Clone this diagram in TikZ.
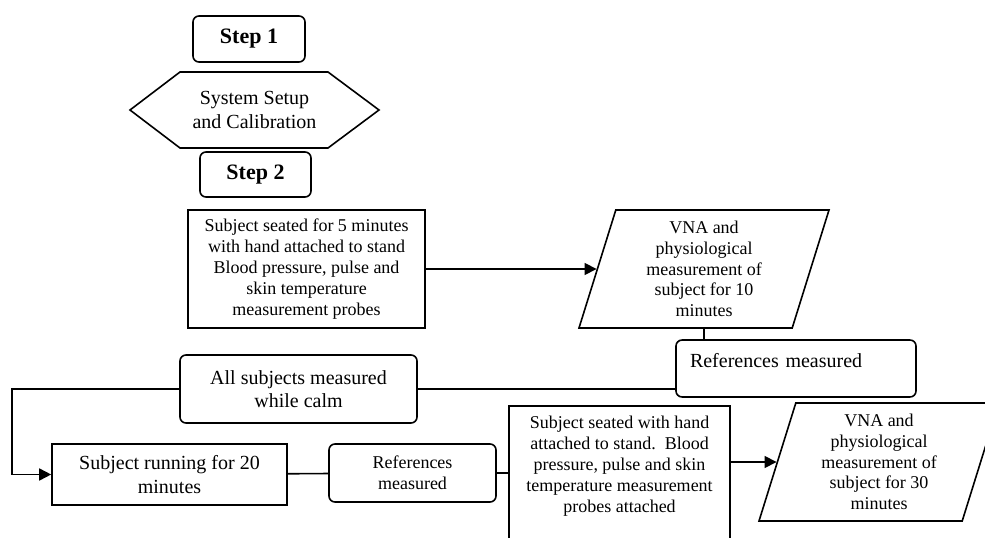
\documentclass[tikz,border=0pt]{standalone}
\usepackage{amsmath}
\usepackage{fontspec}
\setmainfont{Liberation Serif}
\usepackage{tikz}
\usetikzlibrary{shapes.geometric,arrows.meta}

\begin{document}
\begin{tikzpicture}[x=0.75pt, y=-0.75pt, line width=1.2pt,
        >={Triangle[length=9pt,width=9pt]},
        rbox/.style={draw=black, rounded corners=4.5pt, align=center, inner sep=0pt},
        sbox/.style={draw=black, align=center, inner sep=0pt},
        para/.style={draw=black, trapezium, trapezium left angle=69, trapezium right angle=111,
            trapezium stretches body=true, align=center, inner sep=0pt},
        bigtxt/.style={font=\fontsize{15}{17.5}\selectfont},
        smalltxt/.style={font=\fontsize{13.5}{15.6}\selectfont},
        steptxt/.style={font=\fontsize{16.5}{19}\selectfont\bfseries}]
            \useasboundingbox (0,0) rectangle (985,538);
            \clip (0,0) rectangle (985,538);
            % step one
            \node[rbox, steptxt, minimum width=84pt, minimum height=34.5pt] (step1) at (249,39) {Step 1};
            \draw (130,110) -- (180,72) -- (328,72) -- (379,110) -- (328,148) -- (180,148) -- cycle;
            \node[bigtxt, align=center] (setup) at (254.5,110) {System Setup\\and Calibration};
            \node[rbox, steptxt, minimum width=83.25pt, minimum height=33.75pt] (step2) at (255.5,174.5) {Step 2};
            % step two
            \node[sbox, smalltxt, minimum width=177.75pt, minimum height=88.5pt] (seat1) at (306.5,269)
                {Subject seated for 5 minutes\\with hand attached to stand\\Blood pressure, pulse and\\skin temperature\\measurement probes};
            \node[para, smalltxt, minimum width=187.5pt, minimum height=88.5pt] (vna1) at (704,269)
                {VNA and\\physiological\\measurement of\\subject for 10\\minutes};
            \node[rbox, bigtxt, align=left, inner xsep=10.5pt, inner ysep=10.5pt, text width=159pt,
                text height=10.2pt, text depth=11.5pt] (refs1) at (796,368.5) {References measured};
            \node[rbox, bigtxt, minimum width=177.75pt, minimum height=51pt] (calm) at (298.5,389)
                {All subjects measured\\while calm};
            \node[sbox, bigtxt, minimum width=176.25pt, minimum height=45.75pt] (run) at (169.5,474.5)
                {Subject running for 20\\minutes};
            \node[rbox, smalltxt, minimum width=125.25pt, minimum height=43.5pt] (refs2) at (412.5,473)
                {References\\measured};
            \node[sbox, smalltxt, anchor=north, minimum width=165.75pt, inner ysep=8pt,
                text depth=30pt] (seat2) at (619.5,405)
                {Subject seated with hand\\attached to stand.\ \ Blood\\pressure, pulse and skin\\temperature measurement\\probes attached};
            \node[para, smalltxt, minimum width=180pt, minimum height=88.5pt] (vna2) at (879,462)
                {VNA and\\physiological\\measurement of\\subject for 30\\minutes};
            \coordinate (turn) at (12,389);
            \draw[->] (seat1) -- (vna1);
            \draw (vna1.south) -- (vna1.south |- refs1.north);
            \draw (refs1.west |- calm.east) -- (calm.east);
            \draw[->] (calm.west) -- (turn) |- (run.west);
            \draw (run) -- (refs2);
            \draw (refs2) -- (refs2 -| seat2.west);
            \draw[->] (seat2.east |- vna2) -- (vna2);
        \end{tikzpicture}
\end{document}
